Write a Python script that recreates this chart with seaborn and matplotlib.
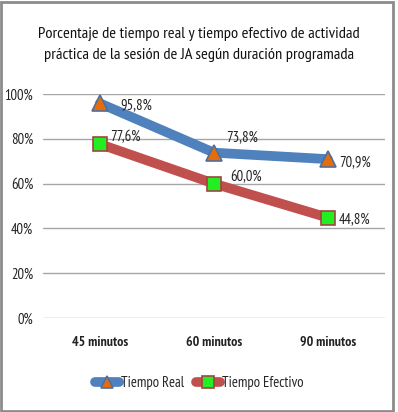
import matplotlib
matplotlib.use("Agg")
import matplotlib.pyplot as plt
import seaborn as sns
import pandas as pd
from matplotlib.patches import Rectangle

categories = ["45 minutos", "60 minutos", "90 minutos"]
tiempo_real = [95.8, 73.8, 70.9]
tiempo_efectivo = [77.6, 60.0, 44.8]
yticks = [0, 20, 40, 60, 80, 100]

sns.set_style("white")
plt.rcParams['font.family'] = ['PT Sans Narrow', 'DejaVu Sans']

fig = plt.figure(figsize=(3.98, 4.12), dpi=100)
ax = fig.add_axes([0.108, 0.228, 0.859, 0.544])

df_real = pd.DataFrame({"cat": categories, "val": tiempo_real})
df_ef = pd.DataFrame({"cat": categories, "val": tiempo_efectivo})

sns.lineplot(data=df_real, x="cat", y="val", ax=ax, color="#4F81BD", lw=7,
             marker="^", markersize=11, markerfacecolor="#E46C0A",
             markeredgecolor="#4F6E9E", markeredgewidth=1.2, label="Tiempo Real")
sns.lineplot(data=df_ef, x="cat", y="val", ax=ax, color="#C0504D", lw=7,
             marker="s", markersize=10, markerfacecolor="#22EE22",
             markeredgecolor="#A0453F", markeredgewidth=1.2, label="Tiempo Efectivo")

# data labels
off_real = [(20, -2), (12, 15), (11, -3)]
off_ef = [(10, 7), (16, 6), (11, -2)]
for i, v in enumerate(tiempo_real):
    ax.annotate(f"{v:.1f}%".replace(".", ","), (i, v), xytext=off_real[i],
                textcoords="offset pixels", ha="left", va="center", fontsize=10.5,
                color="#222222")
for i, v in enumerate(tiempo_efectivo):
    ax.annotate(f"{v:.1f}%".replace(".", ","), (i, v), xytext=off_ef[i],
                textcoords="offset pixels", ha="left", va="center", fontsize=10.5,
                color="#222222")

ax.set_xlim(-0.5, 2.5)
ax.set_ylim(0, 100)
ax.set_yticks(yticks)
ax.set_yticklabels([f"{t}%" for t in yticks], fontsize=10.5, color="#222222")
ax.set_xticks(range(len(categories)))
ax.set_xticklabels(categories, fontsize=10, fontweight="bold", color="#222222")
ax.tick_params(axis="both", length=0)
ax.tick_params(axis="x", pad=13)
ax.tick_params(axis="y", pad=7)
ax.set_xlabel("")
ax.set_ylabel("")
ax.grid(axis="y", color="#A6A6A6", lw=1)
ax.set_axisbelow(True)
for s in ax.spines.values():
    s.set_visible(False)

fig.text(0.5, 0.892, "Porcentaje de tiempo real y tiempo efectivo de actividad\n"
         "práctica de la sesión de JA según duración programada",
         ha="center", va="center", fontsize=11.8, linespacing=1.7, color="#111111")

ax.legend(loc="center", bbox_to_anchor=(0.5, 0.07), bbox_transform=fig.transFigure,
          ncol=2, frameon=False, fontsize=10.5, handlelength=1.7, columnspacing=0.8,
          handletextpad=0.1, markerscale=0.8)

fig.patches.append(Rectangle((0.003, 0.003), 0.985, 0.992, transform=fig.transFigure,
                             fill=False, edgecolor="#8C8C8C", lw=2))

fig.savefig("out.png", dpi=100)
